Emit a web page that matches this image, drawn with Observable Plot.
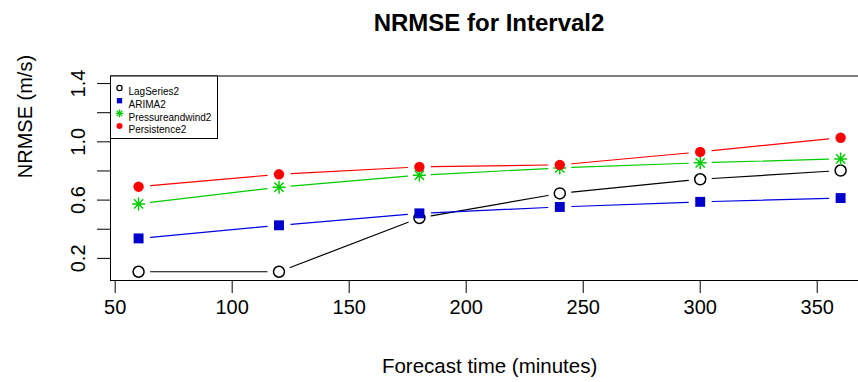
<!DOCTYPE html>
<html><head><meta charset="utf-8">
<script src="https://cdn.jsdelivr.net/npm/d3@7"></script>
<script src="https://cdn.jsdelivr.net/npm/@observablehq/plot@0.6"></script>
<style>
body{margin:0;background:#fff;font-family:"Liberation Sans",Arial,Helvetica,sans-serif;}
#wrap{position:relative;width:858px;height:382px;overflow:hidden;background:#fff}
#title{position:absolute;left:120px;width:738px;top:0;height:50px;line-height:46px;text-align:center;font-weight:bold;font-size:24px;color:#000}
#chart{position:absolute;left:0;top:50px}
</style></head><body>
<div id="wrap"><div id="title">NRMSE for Interval2</div><div id="chart"></div></div>
<script>
// ---- data ----
const minutes = [60, 120, 180, 240, 300, 360];
const lagSeries2 = [0.108, 0.108, 0.477, 0.646, 0.743, 0.803];
const arima2 = [0.337, 0.427, 0.509, 0.553, 0.588, 0.614];
const pressureandwind2 = [0.574, 0.689, 0.771, 0.821, 0.856, 0.883];
const persistence2 = [0.692, 0.777, 0.828, 0.842, 0.931, 1.028];
const seriesNames = ["LagSeries2", "ARIMA2", "Pressureandwind2", "Persistence2"];
const seriesValues = [lagSeries2, arima2, pressureandwind2, persistence2];
const xTicks = [50, 100, 150, 200, 250, 300, 350];
const yTicks = [0.2, 0.4, 0.6, 0.8, 1.0, 1.2, 1.4];
const yTickLabels = [0.2, 0.6, 1.0, 1.4];

// ---- styles ----
const star8 = {
  draw(ctx, size) {
    const r = Math.sqrt(size / Math.PI);
    for (let k = 0; k < 4; k++) {
      const a = k * Math.PI / 4, c = Math.cos(a) * r, s = Math.sin(a) * r;
      ctx.moveTo(-c, -s); ctx.lineTo(c, s);
    }
  }
};
const styles = [
  {color: "#000000", symbol: "circle", fill: "none", stroke: "#000000", sw: 1.5, r: 5.5, lr: 2.6},
  {color: "#0000e0", symbol: "square", fill: "#0000cc", stroke: "none", sw: 0, r: 5.6, lr: 3.0},
  {color: "#00cc00", symbol: star8, fill: "none", stroke: "#00cc00", sw: 1.5, r: 6.5, lr: 3.8},
  {color: "#ff0000", symbol: "circle", fill: "#ff0000", stroke: "none", sw: 0, r: 5.2, lr: 3.0}
];

const marks = [];
const W = 858, H = 332;
const mL = 110, mR = -10.2, mT = 25.5, mB = 102;

seriesNames.forEach((name, i) => {
  const vals = seriesValues[i];
  const pts = minutes.map((m, j) => ({name, minutes: m, value: vals[j]}));
  const segs = pts.slice(1).map((p, j) => ({x1: pts[j].minutes, y1: pts[j].value, x2: p.minutes, y2: p.value}));
  const st = styles[i];
  marks.push(Plot.arrow(segs, {x1: "x1", y1: "y1", x2: "x2", y2: "y2", stroke: st.color, strokeWidth: 1.2, headLength: 0, bend: 0, inset: 12}));
  marks.push(Plot.dot(pts, {x: "minutes", y: "value", symbol: st.symbol, r: st.r, fill: st.fill, stroke: st.stroke, strokeWidth: st.sw}));
  const ldy = 12 + i * 12.7;
  marks.push(Plot.dot([name], {frameAnchor: "top-left", dx: 9, dy: ldy, symbol: st.symbol, r: st.lr, fill: st.fill, stroke: st.stroke, strokeWidth: st.sw ? 1.2 : 0}));
  marks.push(Plot.text([name], {frameAnchor: "top-left", dx: 18, dy: ldy, text: d => d, textAnchor: "start", fontSize: 10, fill: "#000"}));
});

const plotWidth = W - mL - mR;
const plotHeight = H - mT - mB;

const chart = Plot.plot({
  width: W, height: H,
  marginLeft: mL, marginRight: mR, marginTop: mT, marginBottom: mB,
  style: {fontFamily: '"Liberation Sans", Arial, Helvetica, sans-serif', fontSize: "20px", color: "#000", background: "#fff"},
  x: {domain: [48, 372], label: null},
  y: {domain: [0.048, 1.452], label: null},
  marks: [
    Plot.frame({stroke: "#000", strokeWidth: 1}),
    Plot.frame({stroke: "#000", strokeWidth: 1, fill: "#fff", insetRight: plotWidth - 107, insetBottom: plotHeight - 62.5}),
    Plot.axisX(xTicks, {tickSize: 13, tickPadding: 6, fontSize: 20, label: null, tickFormat: d => String(d)}),
    Plot.axisY(yTicks, {tickSize: 13, label: null, tickFormat: () => ""}),
    Plot.axisY(yTickLabels, {tickSize: 0, tickRotate: -90, tickPadding: 26, fontSize: 20, label: null, tickFormat: d => d.toFixed(1)}),
    Plot.text(["NRMSE (m/s)"], {frameAnchor: "left", dx: -85, rotate: -90, fontSize: 20, text: d => d, fill: "#000"}),
    Plot.text(["Forecast time (minutes)"], {frameAnchor: "bottom", dy: 92, fontSize: 20.5, text: d => d, fill: "#000"}),
    ...marks
  ]
});
document.getElementById("chart").appendChild(chart);
</script>
</body></html>
